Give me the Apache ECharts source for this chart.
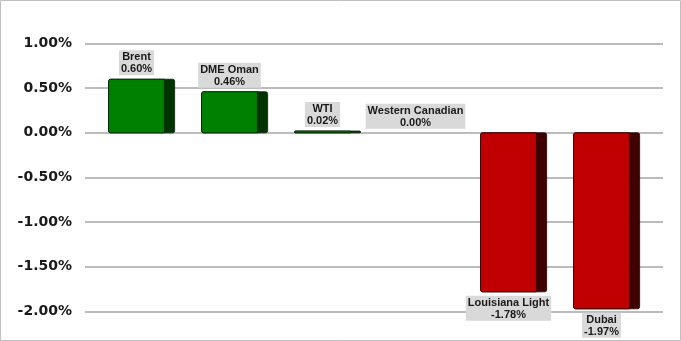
<!DOCTYPE html>
<html><head><meta charset="utf-8">
<script src="https://cdn.jsdelivr.net/npm/echarts@6/dist/echarts.min.js"></script>
<style>html,body{margin:0;padding:0;background:#fff}#c{width:681px;height:341px}</style>
</head><body><div id="c"></div>
<script>
var categories = ['Brent','DME Oman','WTI','Western Canadian','Louisiana Light','Dubai'];
var values = [0.60, 0.46, 0.02, 0.00, -1.78, -1.97];
var yMin = -2, yMax = 1, yInterval = 0.5;

var chart = echarts.init(document.getElementById('c'), null, {renderer:'canvas'});
var GT = 43.5, GB = 29.5;
function renderItem(params, api) {
  var i = api.value(0), v = api.value(1);
  var base = api.coord([i, 0]), top = api.coord([i, v]);
  var band = api.size([1, 0])[0];
  var c = base[0];
  var fw = band * 0.6, sw = band * 0.11;
  var y1 = Math.min(base[1], top[1]), h = Math.abs(base[1] - top[1]);
  var pos = v >= 0;
  var front = pos ? '#008000' : '#c00000';
  var side = pos ? '#003300' : '#3f0000';
  var edge = pos ? '#002200' : '#300000';
  var children = [];
  if (h > 0.1) {
    children.push({type:'rect', shape:{x:c - fw/2, y:y1, width:fw + sw, height:h, r:2},
      style:{fill:side, stroke:edge, lineWidth:0.8}});
    children.push({type:'rect', shape:{x:c - fw/2, y:y1, width:fw, height:h, r:[2,0,0,2]},
      style:{fill:front, stroke:edge, lineWidth:0.8}});
  }
  var txt = categories[i] + '\n' + v.toFixed(2) + '%';
  children.push({type:'text', x:c, y: pos ? y1 - 4 : y1 + h + 4,
    style:{text:txt, align:'center', verticalAlign: pos ? 'bottom' : 'top',
      font:'bold 11px "Liberation Sans", Arial, sans-serif', fill:'#1a1a1a',
      lineHeight:12, backgroundColor:'#d9d9d9', padding:[1,2,0,2]}});
  return {type:'group', children:children};
}
chart.setOption({
  animation:false,
  graphic:[{type:'rect', shape:{x:0.5, y:0.5, width:680, height:340}, style:{fill:'none', stroke:'#bfbfbf', lineWidth:1}, z:100}],
  grid:[
    {left:85, right:18, top:GT, bottom:GB},
    {left:90, right:33, top:GT, bottom:GB}
  ],
  xAxis:[
    {type:'category', gridIndex:0, data:categories, show:false},
    {type:'category', gridIndex:1, data:categories, show:false}
  ],
  yAxis:[
    {type:'value', gridIndex:0, min:yMin, max:yMax, interval:yInterval,
     axisLine:{show:false}, axisTick:{show:false},
     axisLabel:{margin:13, formatter:function(v){return v.toFixed(2)+'%';},
       fontFamily:'"DejaVu Sans", sans-serif', fontWeight:'bold', fontSize:14, color:'#1a1a1a'},
     splitLine:{lineStyle:{color:'#a6a6a6', width:1.5}}},
    {type:'value', gridIndex:1, min:yMin, max:yMax, interval:yInterval, show:false, splitLine:{show:false}}
  ],
  series:[{
    type:'custom', xAxisIndex:1, yAxisIndex:1,
    data: values.map(function(v, i){ return [i, v]; }),
    renderItem: renderItem
  }]
});
</script></body></html>
